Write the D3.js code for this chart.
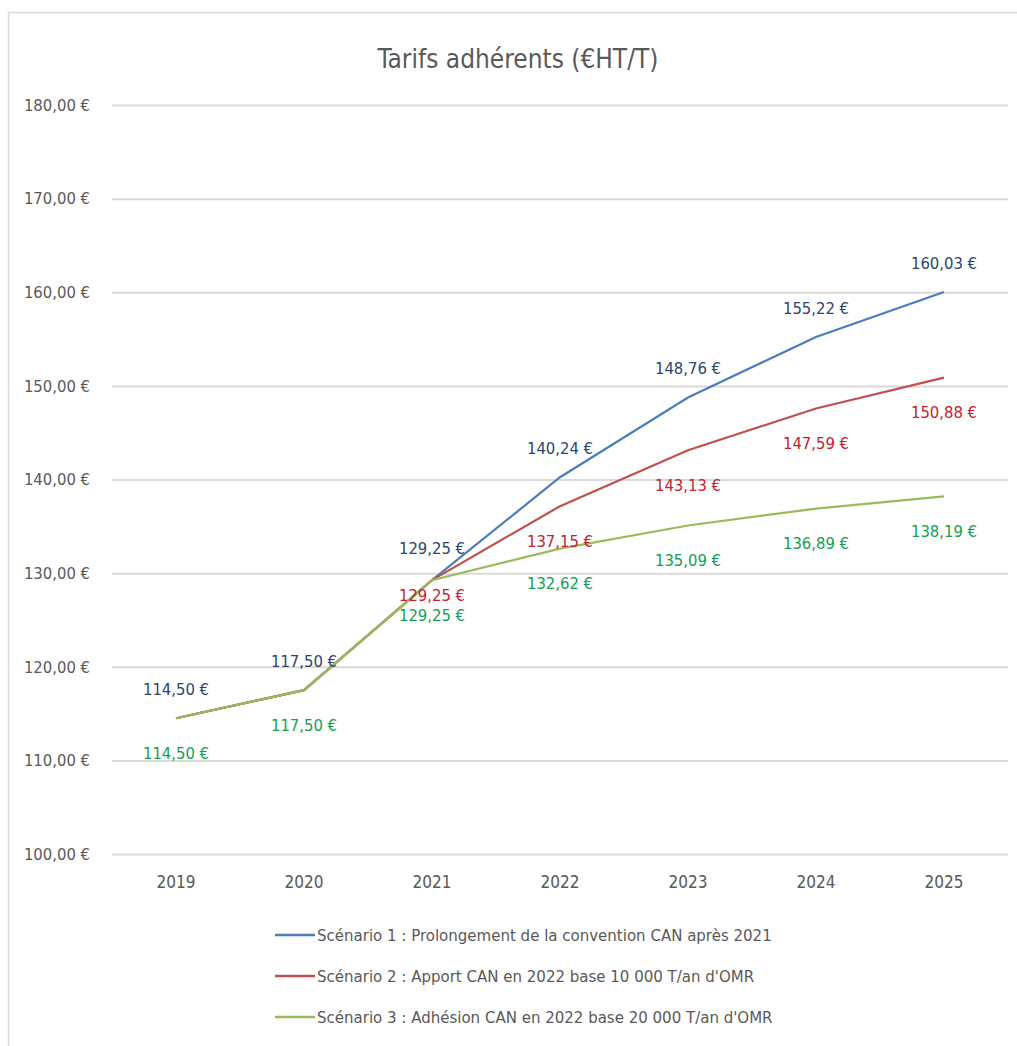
<!DOCTYPE html>
<html>
<head>
<meta charset="utf-8">
<script src="https://cdn.jsdelivr.net/npm/d3@7"></script>
<style>
  body { margin: 0; background: #fff; }
  text { font-family: "Liberation Sans Narrow", "DejaVu Sans Condensed", "Open Sans", sans-serif; }
</style>
</head>
<body>
<div id="chart"></div>
<script>
// data
var years = ['2019', '2020', '2021', '2022', '2023', '2024', '2025'];
var scenario1 = [114.50, 117.50, 129.25, 140.24, 148.76, 155.22, 160.03];
var scenario2 = [114.50, 117.50, 129.25, 137.15, 143.13, 147.59, 150.88];
var scenario3 = [114.50, 117.50, 129.25, 132.62, 135.09, 136.89, 138.19];
var seriesNames = [
    'Scénario 1 : Prolongement de la convention CAN après 2021',
    'Scénario 2 : Apport CAN en 2022 base 10 000 T/an d\'OMR',
    'Scénario 3 : Adhésion CAN en 2022 base 20 000 T/an d\'OMR'
];
var yTicks = [100, 110, 120, 130, 140, 150, 160, 170, 180];

var W = 1017, H = 1046;
var margin = { left: 112, right: 9, top: 105, bottom: 192 };
var width = W - margin.left - margin.right,
    height = H - margin.top - margin.bottom;

var fmt = function (v) { return v.toFixed(2).replace('.', ',') + ' €'; };

var svg = d3.select('#chart')
    .append('svg')
    .attr('width', W)
    .attr('height', H);

// frame
svg.append('path')
    .attr('d', 'M8.5,' + H + ' V12.5 H' + W)
    .attr('fill', 'none')
    .attr('stroke', '#d9d9d9')
    .attr('stroke-width', 1.5);

svg.append('text')
    .attr('x', 518)
    .attr('y', 68)
    .attr('text-anchor', 'middle')
    .attr('font-size', '26px')
    .attr('fill', '#595959')
    .text('Tarifs adhérents (€HT/T)');

var g = svg.append('g')
    .attr('transform', 'translate(' + margin.left + ',' + margin.top + ')');

var x = d3.scaleBand()
    .domain(years)
    .range([0, width]);

var y = d3.scaleLinear()
    .domain([100, 180])
    .range([height, 0]);

// grid + y labels
var yAxis = g.append('g')
    .call(d3.axisLeft(y).tickValues(yTicks).tickSize(-width).tickFormat(fmt).tickPadding(22));
yAxis.select('.domain').remove();
yAxis.selectAll('.tick line')
    .attr('stroke', '#d9d9d9')
    .attr('stroke-width', 2);
yAxis.selectAll('.tick text')
    .attr('fill', '#595959')
    .attr('font-size', '16.5px')
    .attr('font-family', null);

// x labels
var xAxis = g.append('g')
    .attr('transform', 'translate(0,' + height + ')')
    .call(d3.axisBottom(x).tickSize(0).tickPadding(22));
xAxis.select('.domain').remove();
xAxis.selectAll('.tick text')
    .attr('fill', '#595959')
    .attr('font-size', '17px')
    .attr('font-family', null);

var series = [
    { name: seriesNames[0], values: scenario1, color: '#4a7ebb', labelColor: '#2e4470', dy: -29 },
    { name: seriesNames[1], values: scenario2, color: '#c0504d', labelColor: '#c8202e', dy: 35 },
    { name: seriesNames[2], values: scenario3, color: '#9bbb59', labelColor: '#14a050', dy: 35 }
];

var line = d3.line()
    .x(function (d, i) { return x(years[i]) + x.bandwidth() / 2; })
    .y(function (d) { return y(d); });

series.forEach(function (s) {
    g.append('path')
        .datum(s.values)
        .attr('fill', 'none')
        .attr('stroke', s.color)
        .attr('stroke-width', 2.2)
        .attr('d', line);
});

// data labels
series.forEach(function (s, si) {
    g.append('g').selectAll('text')
        .data(s.values.map(function (v, i) { return { v: v, i: i }; })
            .filter(function (d) { return !(si === 1 && d.i < 2); }))
        .enter()
        .append('text')
        .attr('x', function (d) { return x(years[d.i]) + x.bandwidth() / 2; })
        .attr('y', function (d) {
            var off = s.dy;
            if (si === 1 && d.i === 2) off = 15;   // moved by hand in the original
            if (si === 0 && d.i === 2) off = -32;
            return y(d.v) + off;
        })
        .attr('dy', '0.35em')
        .attr('text-anchor', 'middle')
        .attr('font-size', '16.5px')
        .attr('fill', s.labelColor)
        .text(function (d) { return fmt(d.v); });
});

// legend
var legend = svg.append('g')
    .attr('transform', 'translate(275,935)');
series.forEach(function (s, i) {
    var row = legend.append('g').attr('transform', 'translate(0,' + (i * 41) + ')');
    row.append('line')
        .attr('x1', 0).attr('x2', 40)
        .attr('stroke', s.color)
        .attr('stroke-width', 2.5);
    row.append('text')
        .attr('x', 42)
        .attr('dy', '0.35em')
        .attr('font-size', '16.7px')
        .attr('fill', '#595959')
        .text(s.name);
});
</script>
</body>
</html>
